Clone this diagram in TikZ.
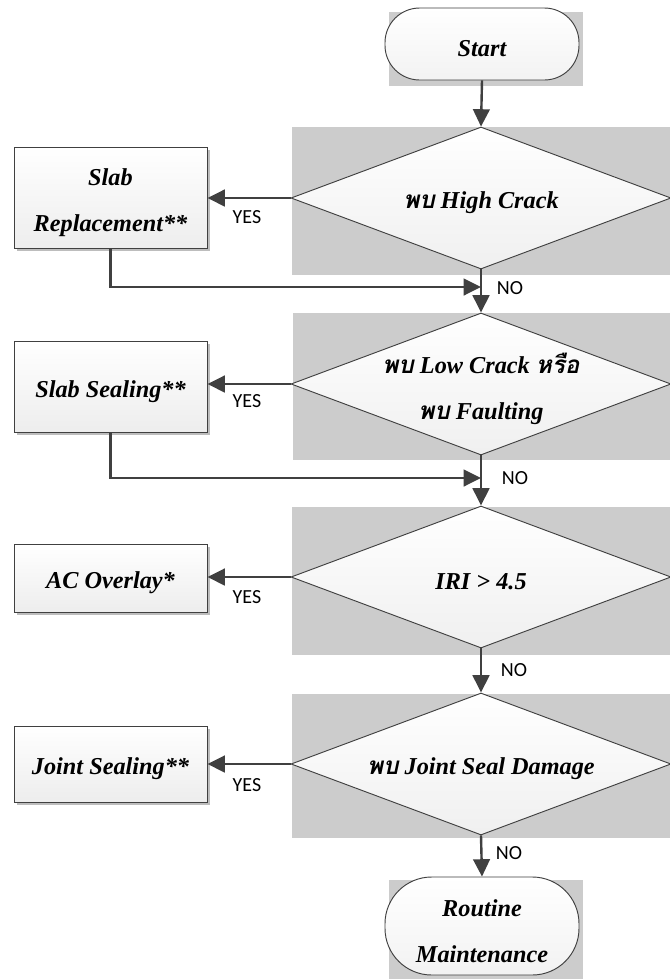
\documentclass[tikz,border=0pt]{standalone}
\usepackage{fontspec}
\setmainfont{Liberation Serif}
\newfontfamily\thaifont[Script=Thai]{Loma}
\newfontfamily\labfont{Carlito}
\usetikzlibrary{shapes.geometric,arrows.meta,shadows}
\definecolor{linec}{HTML}{404040}
\definecolor{bgray}{HTML}{CCCCCC}
\definecolor{shad}{HTML}{BDBDBD}
\newcommand{\thx}[1]{{\thaifont\bfseries\itshape #1}}
\begin{document}
\begin{tikzpicture}[x=0.75pt,y=-0.75pt,
  conn/.style={draw=linec, line width=1.8pt},
  arr/.style={conn, -{Triangle[length=13pt,width=12.5pt]}},
  bgr/.style={fill=bgray, draw=none},
  txt/.style={font={\fontsize{18.2}{34.5}\selectfont\bfseries\itshape}, align=center, inner sep=0pt, yshift=-3.75pt},
  lab/.style={font={\labfont\fontsize{15}{18}\selectfont}, inner sep=0pt},
  boxstyle/.style={draw=linec, line width=0.7pt, top color=white, bottom color=black!7,
    minimum width=144.75pt, inner sep=0pt,
    drop shadow={shadow xshift=2.5pt, shadow yshift=-2.5pt, fill=shad, opacity=1}},
  decision/.style={diamond, draw=linec, line width=0.7pt, top color=white, bottom color=black!6,
    minimum width=285pt, minimum height=106.5pt, inner sep=0pt},
  terminal/.style={draw=linec, line width=0.7pt, top color=white, bottom color=black!5,
    minimum width=145.5pt, inner sep=0pt}
]
\useasboundingbox (0,0) rectangle (670,979);
\fill[white] (0,0) rectangle (670,979);

% gray backgrounds
\fill[bgr] (389,12) rectangle (583,86);
\fill[bgr] (292,127) rectangle (670,275);
\fill[bgr] (293,313) rectangle (670,460);
\fill[bgr] (292,507) rectangle (670,655);
\fill[bgr] (292,694) rectangle (670,838);
\fill[bgr] (389,880) rectangle (583,979);

% terminals
\node[terminal, minimum height=54pt, rounded corners=26pt] (start) at (482,44) {};
\node[txt] at (start) {Start};
\node[terminal, minimum height=73.5pt, rounded corners=35pt] (routine) at (482,926) {};
\node[txt] at (routine) {Routine\\Maintenance};

% decisions
\node[decision] (d1) at (481,198) {};
\node[txt] at (d1) {\thx{พบ} High Crack};
\node[decision] (d2) at (481,384) {};
\node[txt] at (d2) {\thx{พบ} Low Crack \thx{หรือ}\\\thx{พบ} Faulting};
\node[decision] (d3) at (481,577) {};
\node[txt] at (d3) {IRI > 4.5};
\node[decision] (d4) at (481,764) {};
\node[txt] at (d4) {\thx{พบ} Joint Seal Damage};

% action boxes
\node[boxstyle, minimum height=75.75pt] (sr) at (110.5,197.5) {};
\node[txt] at (sr) {Slab\\Replacement**};
\node[boxstyle, minimum height=68.25pt] (ss) at (110.5,386.5) {};
\node[txt] at (ss) {Slab Sealing**};
\node[boxstyle, minimum height=51pt] (ac) at (110.5,578) {};
\node[txt] at (ac) {AC Overlay*};
\node[boxstyle, minimum height=57pt] (js) at (110.5,764) {};
\node[txt] at (js) {Joint Sealing**};

% merge points
\coordinate (m1) at (481,287);
\coordinate (m2) at (481,478);

% connectors
\draw[arr] (start.south) -- (d1.north);
\draw[arr] (d1.south) -- (d2.north);
\draw[arr] (d2.south) -- (d3.north);
\draw[arr] (d3.south) -- (d4.north);
\draw[arr] (d4.south) -- (routine.north);
\draw[arr] (d1.west) -- (d1.west -| sr.east);
\draw[arr] (d2.west) -- (d2.west -| ss.east);
\draw[arr] (d3.west) -- (d3.west -| ac.east);
\draw[arr] (d4.west) -- (d4.west -| js.east);
\draw[arr] (sr.south) |- (m1);
\draw[arr] (ss.south) |- (m2);

% labels
\node[lab] (y1) at (247,217) {YES};
\node[lab] (y2) at (247,401) {YES};
\node[lab] (y3) at (247,597) {YES};
\node[lab] (y4) at (247,785) {YES};
\node[lab] (n1) at (510,288) {NO};
\node[lab] (n2) at (515,478) {NO};
\node[lab] (n3) at (514,670) {NO};
\node[lab] (n4) at (509,853) {NO};
\end{tikzpicture}
\end{document}
